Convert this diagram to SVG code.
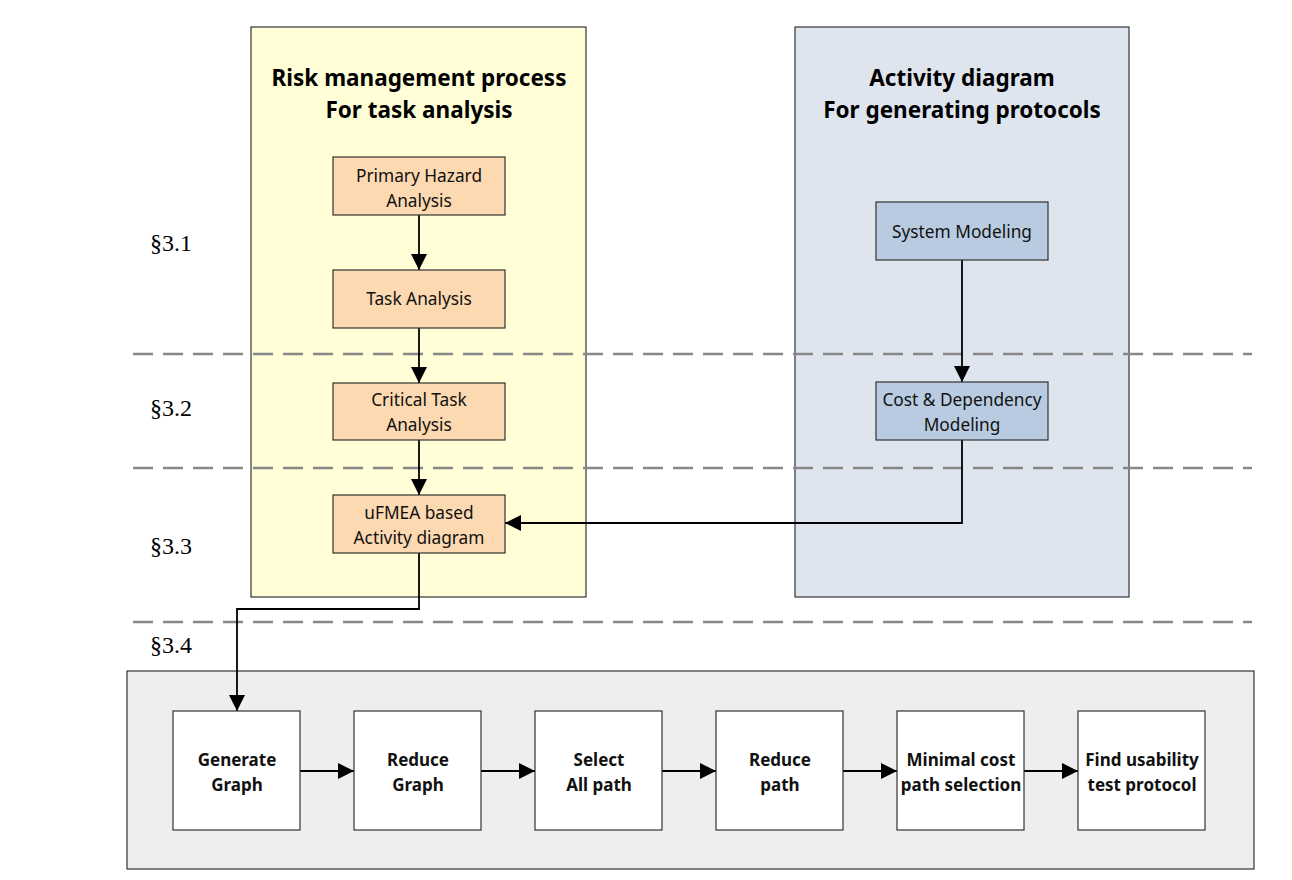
<svg xmlns="http://www.w3.org/2000/svg" width="1292" height="880" viewBox="0 0 1292 880">
<defs>
<marker id="ah" viewBox="0 0 10 10" refX="10" refY="5" markerWidth="16" markerHeight="16" markerUnits="userSpaceOnUse" orient="auto">
<path d="M0,0 L10,5 L0,10 Z" fill="#000"/>
</marker>
</defs>
<style>
.panel{stroke:#333;stroke-width:1.2}
.title{font-family:"Noto Sans","Open Sans",sans-serif;font-weight:bold;font-size:22.5px;fill:#000;text-anchor:middle}
.sec{font-family:"Liberation Serif","DejaVu Serif",serif;font-size:24px;fill:#000}
.dash{stroke:#888;stroke-width:2.5;stroke-dasharray:20 10;fill:none}
.ob{fill:#fcd9b0;stroke:#333;stroke-width:1.2}
.bb{fill:#b8cbe0;stroke:#333;stroke-width:1.2}
.wb{fill:#fff;stroke:#333;stroke-width:1.2}
.t{font-family:"Noto Sans","Open Sans",sans-serif;font-size:17.3px;fill:#111;text-anchor:middle}
.tb{font-family:"Noto Sans","Open Sans",sans-serif;font-size:17px;font-weight:bold;fill:#111;text-anchor:middle}
.c{stroke:#000;stroke-width:1.8;fill:none;marker-end:url(#ah)}
</style>
<rect width="1292" height="880" fill="#fff"/>
<g id="panel-risk">
<rect class="panel" x="251" y="27" width="335" height="570" fill="#fffed6"/>
<text class="title" x="419" y="86">Risk management process</text>
<text class="title" x="419" y="118">For task analysis</text>
</g>
<g id="panel-activity">
<rect class="panel" x="795" y="27" width="334" height="570" fill="#dfe5ee"/>
<text class="title" x="962" y="86">Activity diagram</text>
<text class="title" x="962" y="118">For generating protocols</text>
</g>
<g id="panel-bottom">
<rect class="panel" x="127" y="671" width="1127" height="198" fill="#eeeeee" stroke="#555"/>
</g>
<g id="dividers">
<line class="dash" x1="133" y1="354" x2="1252" y2="354"/>
<line class="dash" x1="133" y1="468" x2="1252" y2="468"/>
<line class="dash" x1="133" y1="622" x2="1252" y2="622"/>
</g>
<g id="section-labels">
<text class="sec" x="150" y="251">§3.1</text>
<text class="sec" x="150" y="416">§3.2</text>
<text class="sec" x="150" y="554">§3.3</text>
<text class="sec" x="150" y="653">§3.4</text>
</g>
<g id="connectors">
<line class="c" x1="419" y1="215" x2="419" y2="270"/>
<line class="c" x1="419" y1="328" x2="419" y2="383"/>
<line class="c" x1="419" y1="440" x2="419" y2="495"/>
<line class="c" x1="962" y1="260" x2="962" y2="382"/>
<polyline class="c" points="962,440 962,523 505,523"/>
<polyline class="c" points="419,553 419,609 237,609 237,711"/>
<line class="c" x1="300" y1="771" x2="354" y2="771"/>
<line class="c" x1="481" y1="771" x2="535" y2="771"/>
<line class="c" x1="662" y1="771" x2="716" y2="771"/>
<line class="c" x1="843" y1="771" x2="897" y2="771"/>
<line class="c" x1="1024" y1="771" x2="1078" y2="771"/>
</g>
<g id="primary-hazard">
<rect class="ob" x="333" y="157" width="172" height="58"/>
<text class="t" x="419" y="182">Primary Hazard</text>
<text class="t" x="419" y="207">Analysis</text>
</g>
<g id="task-analysis">
<rect class="ob" x="333" y="270" width="172" height="58"/>
<text class="t" x="419" y="305">Task Analysis</text>
</g>
<g id="critical-task">
<rect class="ob" x="333" y="383" width="172" height="57"/>
<text class="t" x="419" y="406">Critical Task</text>
<text class="t" x="419" y="431">Analysis</text>
</g>
<g id="ufmea">
<rect class="ob" x="333" y="495" width="172" height="58"/>
<text class="t" x="419" y="519">uFMEA based</text>
<text class="t" x="419" y="544">Activity diagram</text>
</g>
<g id="system-modeling">
<rect class="bb" x="876" y="202" width="172" height="58"/>
<text class="t" x="962" y="238">System Modeling</text>
</g>
<g id="cost-dependency">
<rect class="bb" x="876" y="382" width="172" height="58"/>
<text class="t" x="962" y="406">Cost &amp; Dependency</text>
<text class="t" x="962" y="431">Modeling</text>
</g>
<g id="generate-graph">
<rect class="wb" x="173" y="711" width="127" height="119"/>
<text class="tb" x="237" y="766">Generate</text>
<text class="tb" x="237" y="791">Graph</text>
</g>
<g id="reduce-graph">
<rect class="wb" x="354" y="711" width="127" height="119"/>
<text class="tb" x="418" y="766">Reduce</text>
<text class="tb" x="418" y="791">Graph</text>
</g>
<g id="select-all-path">
<rect class="wb" x="535" y="711" width="127" height="119"/>
<text class="tb" x="599" y="766">Select</text>
<text class="tb" x="599" y="791">All path</text>
</g>
<g id="reduce-path">
<rect class="wb" x="716" y="711" width="127" height="119"/>
<text class="tb" x="780" y="766">Reduce</text>
<text class="tb" x="780" y="791">path</text>
</g>
<g id="minimal-cost">
<rect class="wb" x="897" y="711" width="127" height="119"/>
<text class="tb" x="961" y="766">Minimal cost</text>
<text class="tb" x="961" y="791">path selection</text>
</g>
<g id="find-protocol">
<rect class="wb" x="1078" y="711" width="127" height="119"/>
<text class="tb" x="1142" y="766">Find usability</text>
<text class="tb" x="1142" y="791">test protocol</text>
</g>
</svg>
